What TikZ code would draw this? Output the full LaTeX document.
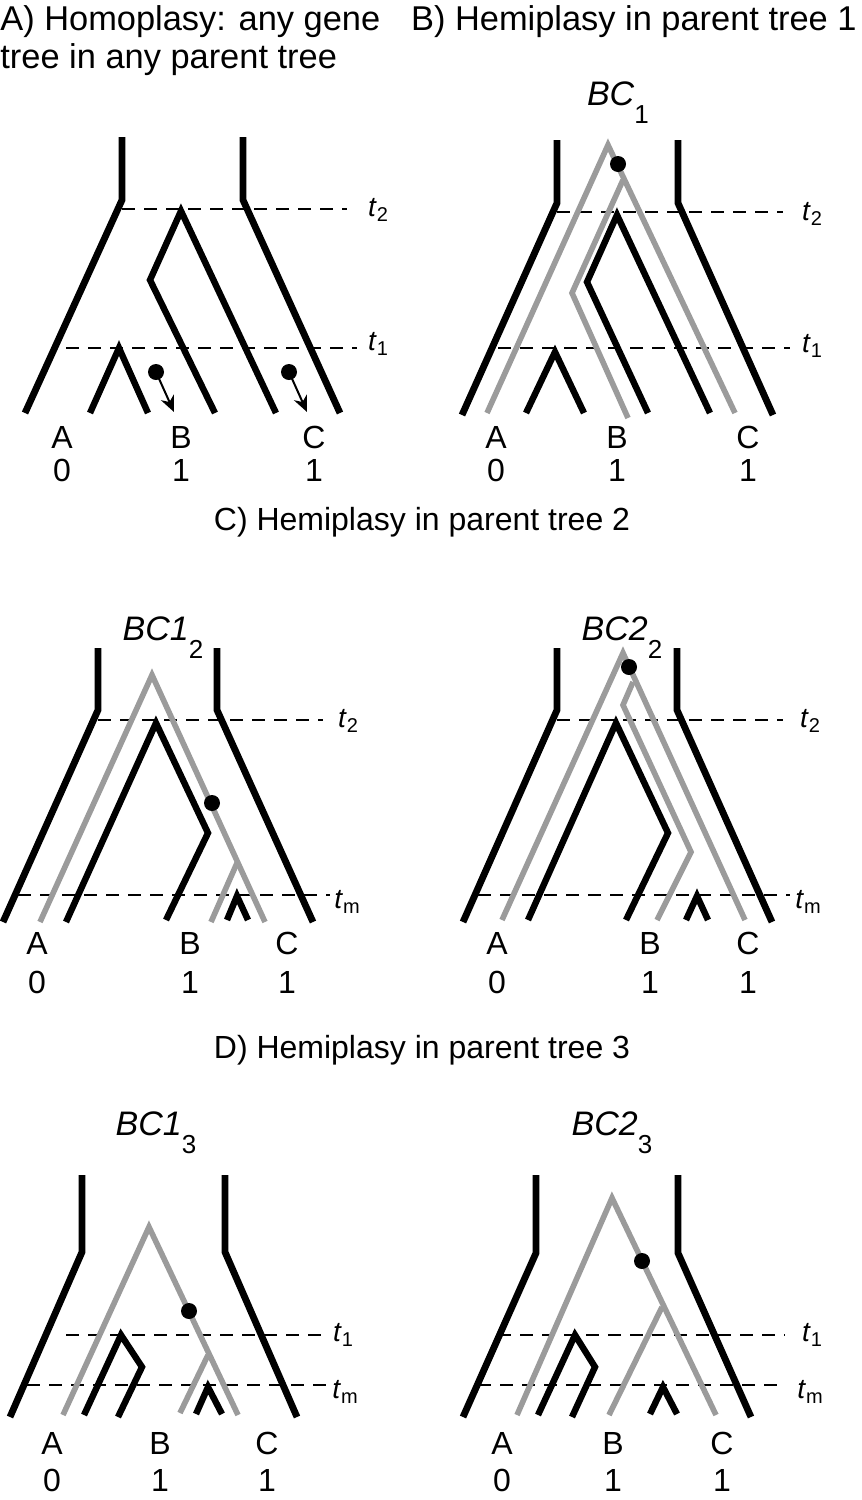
\documentclass[tikz,border=0pt]{standalone}
\usepackage{fontspec}
\setmainfont{Liberation Sans}
\usetikzlibrary{arrows.meta}
\definecolor{genegray}{RGB}{155,155,155}
\newcommand{\tlab}[1]{\textit{t}\raisebox{-0.3ex}{\fontsize{10}{12}\selectfont #1}}
\newcommand{\bclab}[2]{\textit{#1}\raisebox{-1ex}{\fontsize{13}{15}\selectfont #2}}

\begin{document}
\begin{tikzpicture}[x=0.5pt, y=-0.5pt,
    parent/.style={line width=3.4pt, black},
    gene/.style={line width=2.8pt, genegray},
    lineage/.style={line width=3.2pt, black},
    timeline/.style={line width=0.6pt, dash pattern=on 6.5pt off 4.5pt},
    mut/.style={fill=black},
    title/.style={font=\fontsize{17.2}{20}\selectfont, inner sep=0pt},
    subtitle/.style={font=\fontsize{16}{19}\selectfont, inner sep=0pt},
    tip/.style={font=\fontsize{16}{18}\selectfont, inner sep=0pt},
    tlabel/.style={font=\fontsize{14}{16}\selectfont, inner sep=0pt},
    treename/.style={font=\fontsize{17}{20}\selectfont, inner sep=0pt}]
  \useasboundingbox (0,0) rectangle (862,1500);

  % titles
  \node[title, anchor=west] (ttlA) at (0,22) {A) Homoplasy: any gene};
  \node[title, anchor=west] (ttlA2) at (0,60) {tree in any parent tree};
  \node[title, anchor=east] (ttlB) at (857,22) {B) Hemiplasy in parent tree 1};
  \node[subtitle] (ttlC) at (422,522) {C) Hemiplasy in parent tree 2};
  \node[subtitle] (ttlD) at (422,1050) {D) Hemiplasy in parent tree 3};

  % tree names
  \node[treename] (nB) at (618,103) {\bclab{BC}{1}};
  \node[treename] (nC1) at (163,638) {\bclab{BC1}{2}};
  \node[treename] (nC2) at (622,638) {\bclab{BC2}{2}};
  \node[treename] (nD1) at (156,1133) {\bclab{BC1}{3}};
  \node[treename] (nD2) at (612,1133) {\bclab{BC2}{3}};

  % panel A
  \draw[timeline] (122,209) -- (347,209);
  \draw[timeline] (66,348) -- (357,348);
  \node[tlabel] (aT2) at (378,210) {\tlab{2}};
  \node[tlabel] (aT1) at (378,344) {\tlab{1}};
  \draw[parent] (122,137) -- (122,200) -- (25,413);
  \draw[parent] (243,137) -- (243,200) -- (340,413);
  \draw[lineage] (215,413) -- (150,280) -- (181,211) -- (276,413);
  \draw[lineage] (90,413) -- (119,348) -- (148,413);
  \foreach \x/\y/\u/\v in {156/372/174/412, 289/372/307/412} {
      \fill[mut] (\x,\y) circle (8);
      \draw[-{Stealth[length=8pt,width=7pt,inset=2.5pt]}, line width=1pt] (\x,\y) -- (\u,\v);
    }
  \node[tip] (aA) at (62,437) {A};
  \node[tip] (aB) at (181,437) {B};
  \node[tip] (aC) at (314,437) {C};
  \node[tip] (a0) at (62,470) {0};
  \node[tip] (a1) at (181,470) {1};
  \node[tip] (a2) at (314,470) {1};

  % panel B
  \draw[timeline] (557,212) -- (783,212);
  \draw[timeline] (498,348) -- (790,348);
  \node[tlabel] (bT2) at (812,214) {\tlab{2}};
  \node[tlabel] (bT1) at (812,346) {\tlab{1}};
  \draw[parent] (557,140) -- (557,203) -- (462,415);
  \draw[parent] (678,140) -- (678,203) -- (773,415);
  \draw[gene] (487,413) -- (608,145) -- (735,413);
  \draw[gene] (623,180) -- (572,293) -- (628,418);
  \draw[lineage] (648,413) -- (587,282) -- (617,215) -- (710,413);
  \draw[lineage] (526,413) -- (555,352) -- (584,413);
  \fill[mut] (618,164) circle (8);
  \node[tip] (bA) at (496,437) {A};
  \node[tip] (bB) at (617,437) {B};
  \node[tip] (bC) at (748,437) {C};
  \node[tip] (b0) at (496,470) {0};
  \node[tip] (b1) at (617,470) {1};
  \node[tip] (b2) at (748,470) {1};

  % panel C, left
  \draw[timeline] (98,720) -- (323,720);
  \draw[timeline] (18,895) -- (330,895);
  \node[tlabel] (c1T2) at (348,721) {\tlab{2}};
  \node[tlabel] (c1Tm) at (347,902) {\tlab{m}};
  \draw[parent] (98,648) -- (98,710) -- (3,922);
  \draw[parent] (217,648) -- (217,710) -- (313,922);
  \draw[gene] (40,922) -- (152,675) -- (265,922);
  \draw[gene] (237,863) -- (211,922);
  \draw[lineage] (66,922) -- (156,723) -- (208,833) -- (166,920);
  \draw[lineage] (227,920) -- (237,896) -- (248,920);
  \fill[mut] (212,803) circle (8);
  \node[tip] (c1A) at (37,943) {A};
  \node[tip] (c1B) at (190,943) {B};
  \node[tip] (c1C) at (287,943) {C};
  \node[tip] (c10) at (37,982) {0};
  \node[tip] (c11) at (190,982) {1};
  \node[tip] (c12) at (287,982) {1};

  % panel C, right
  \draw[timeline] (557,720) -- (783,720);
  \draw[timeline] (478,895) -- (790,895);
  \node[tlabel] (c2T2) at (810,721) {\tlab{2}};
  \node[tlabel] (c2Tm) at (808,902) {\tlab{m}};
  \draw[parent] (557,648) -- (557,710) -- (463,922);
  \draw[parent] (677,648) -- (677,710) -- (772,922);
  \draw[gene] (502,920) -- (623,653) -- (745,920);
  \draw[gene] (633,682) -- (623,705) -- (691,852) -- (657,920);
  \draw[lineage] (528,920) -- (616,723) -- (668,833) -- (626,920);
  \draw[lineage] (686,920) -- (697,896) -- (708,920);
  \fill[mut] (629,667) circle (8);
  \node[tip] (c2A) at (497,943) {A};
  \node[tip] (c2B) at (650,943) {B};
  \node[tip] (c2C) at (748,943) {C};
  \node[tip] (c20) at (497,982) {0};
  \node[tip] (c21) at (650,982) {1};
  \node[tip] (c22) at (748,982) {1};

  % panel D, left
  \draw[timeline] (66,1335) -- (327,1335);
  \draw[timeline] (27,1385) -- (327,1385);
  \node[tlabel] (d1T1) at (343,1335) {\tlab{1}};
  \node[tlabel] (d1Tm) at (345,1392) {\tlab{m}};
  \draw[parent] (82,1175) -- (82,1252) -- (10,1417);
  \draw[parent] (225,1175) -- (225,1252) -- (297,1417);
  \draw[gene] (63,1415) -- (149,1227) -- (238,1415);
  \draw[gene] (208,1355) -- (180,1413);
  \draw[lineage] (84,1415) -- (121,1335) -- (142,1367) -- (118,1417);
  \draw[lineage] (196,1414) -- (208,1387) -- (222,1414);
  \fill[mut] (189,1311) circle (8);
  \node[tip] (d1A) at (52,1443) {A};
  \node[tip] (d1B) at (160,1443) {B};
  \node[tip] (d1C) at (267,1443) {C};
  \node[tip] (d10) at (52,1480) {0};
  \node[tip] (d11) at (160,1480) {1};
  \node[tip] (d12) at (267,1480) {1};

  % panel D, right
  \draw[timeline] (498,1335) -- (785,1335);
  \draw[timeline] (478,1385) -- (785,1385);
  \node[tlabel] (d2T1) at (812,1335) {\tlab{1}};
  \node[tlabel] (d2Tm) at (810,1392) {\tlab{m}};
  \draw[parent] (536,1175) -- (536,1253) -- (463,1417);
  \draw[parent] (678,1175) -- (678,1253) -- (751,1417);
  \draw[gene] (517,1415) -- (612,1198) -- (716,1415);
  \draw[gene] (662,1307) -- (609,1415);
  \draw[lineage] (538,1415) -- (575,1335) -- (595,1367) -- (572,1417);
  \draw[lineage] (650,1414) -- (663,1387) -- (677,1414);
  \fill[mut] (642,1261) circle (8);
  \node[tip] (d2A) at (502,1443) {A};
  \node[tip] (d2B) at (613,1443) {B};
  \node[tip] (d2C) at (722,1443) {C};
  \node[tip] (d20) at (502,1480) {0};
  \node[tip] (d21) at (613,1480) {1};
  \node[tip] (d22) at (722,1480) {1};
\end{tikzpicture}
\end{document}
